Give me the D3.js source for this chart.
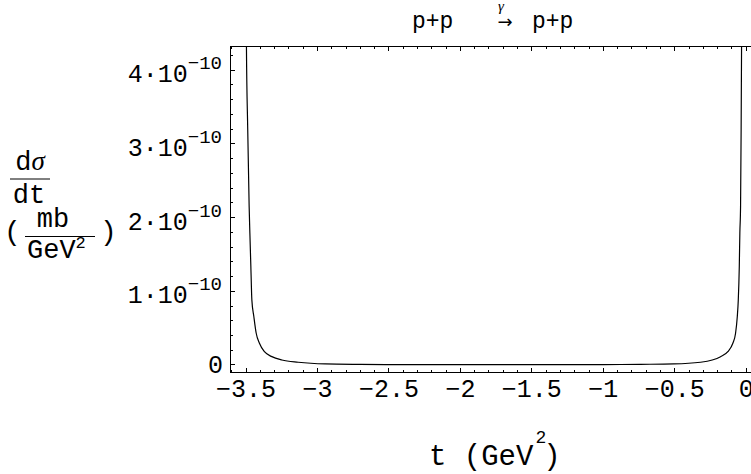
<!DOCTYPE html>
<html lang="en">
<head>
    <meta charset="UTF-8">
    <title>p+p cross section</title>
    <script src="https://cdnjs.cloudflare.com/ajax/libs/d3/7.8.5/d3.js"></script>
    <style>
        body{
            margin:0;
            background:white;
        }
        svg{
            display:block;
        }
        text{
            font-family:"Liberation Mono", "Courier New", monospace;
            fill:black;
        }
    </style>
</head>
<body>
    <svg width="751" height="474"></svg>
    <script>

// t values (GeV^2)
const tValues = [-3.500, -3.497, -3.488, -3.478, -3.473, -3.466, -3.459, -3.445, -3.429, -3.406,
                 -3.371, -3.319, -3.249, -3.135, -2.946, -2.700, -2.400, -2.000, -1.750, -1.500,
                 -1.000, -0.740, -0.507, -0.320, -0.238, -0.180, -0.129, -0.094, -0.075, -0.063,
                 -0.056, -0.049, -0.045, -0.040, -0.036, -0.033, -0.030]
// dsigma/dt in units of 1e-10 mb/GeV^2
const sigmaValues = [6.0, 4.33, 3.2, 2.15, 1.79, 1.33, 0.88, 0.655, 0.434, 0.294,
                     0.180, 0.113, 0.068, 0.037, 0.014, 0.008, 0.005, 0.004, 0.004, 0.004,
                     0.005, 0.009, 0.014, 0.037, 0.068, 0.113, 0.180, 0.294, 0.43, 0.655,
                     0.88, 1.33, 1.79, 2.15, 3.2, 4.33, 6.0]

const xTickValues = [-3.5, -3, -2.5, -2, -1.5, -1, -0.5, 0]
const xTickLabels = ["\u22123.5", "\u22123", "\u22122.5", "\u22122", "\u22121.5", "\u22121", "\u22120.5", "0"]
const yTickValues = [0, 1, 2, 3, 4]
const yTickLabels = ["0", "1\u00b710", "2\u00b710", "3\u00b710", "4\u00b710"]

const svg = d3.select("svg")

const plotLeft = 230, plotRight = 752, plotTop = 46, plotBottom = 372.5

const x = d3.scaleLinear().domain([-3.612, 0.04]).range([plotLeft, plotRight])
const y = d3.scaleLinear().domain([-0.102, 4.328]).range([plotBottom, plotTop])

// minor ticks
const xMinor = d3.range(-36, 1).map(d => d / 10).filter(d => Math.abs(d * 2 - Math.round(d * 2)) > 1e-6)
const yMinor = d3.range(0, 22).map(d => d / 5).filter(d => Math.abs(d - Math.round(d)) > 1e-6)

const frame = svg.append("g")
    .attr("stroke", "black")
    .attr("stroke-width", 1)
    .attr("shape-rendering", "crispEdges")

frame.append("line").attr("x1", plotLeft).attr("x2", plotRight).attr("y1", plotTop).attr("y2", plotTop)
frame.append("line").attr("x1", plotLeft).attr("x2", plotRight).attr("y1", plotBottom).attr("y2", plotBottom)
frame.append("line").attr("x1", plotLeft).attr("x2", plotLeft).attr("y1", plotTop).attr("y2", plotBottom)
frame.append("line").attr("x1", plotRight).attr("x2", plotRight).attr("y1", plotTop).attr("y2", plotBottom)

// x ticks, bottom and top, pointing inward
function xTicks(values, len){
    frame.selectAll(null)
        .data(values)
        .enter()
        .append("line")
        .attr("x1", d => x(d)).attr("x2", d => x(d))
        .attr("y1", plotBottom).attr("y2", plotBottom - len)
    frame.selectAll(null)
        .data(values)
        .enter()
        .append("line")
        .attr("x1", d => x(d)).attr("x2", d => x(d))
        .attr("y1", plotTop).attr("y2", plotTop + len)
}
xTicks(xTickValues, 5)
xTicks(xMinor, 3)

function yTicks(values, len){
    frame.selectAll(null)
        .data(values)
        .enter()
        .append("line")
        .attr("x1", plotLeft).attr("x2", plotLeft + len)
        .attr("y1", d => y(d)).attr("y2", d => y(d))
}
yTicks(yTickValues, 5)
yTicks(yMinor, 3)

// tick labels
svg.append("g")
    .selectAll("text")
    .data(xTickValues)
    .enter()
    .append("text")
    .attr("x", d => x(d))
    .attr("y", 397)
    .attr("text-anchor", "middle")
    .attr("font-size", 25)
    .text((d, i) => xTickLabels[i])

const yLab = svg.append("g")
    .selectAll("text")
    .data(yTickValues)
    .enter()
    .append("text")
    .attr("x", d => d === 0 ? 223 : 222)
    .attr("y", d => d === 0 ? y(d) + 8 : y(d) + 12)
    .attr("text-anchor", "end")
    .attr("font-size", 25)

yLab.append("tspan").text((d, i) => yTickLabels[i])
yLab.filter(d => d !== 0)
    .append("tspan")
    .attr("dy", -13)
    .attr("font-size", 19)
    .text("\u221210")

// curve
svg.append("clipPath").attr("id", "plotclip")
    .append("rect")
    .attr("x", plotLeft).attr("y", plotTop)
    .attr("width", plotRight - plotLeft).attr("height", plotBottom - plotTop)

const points = tValues.map((t, i) => [t, sigmaValues[i]])
const line = d3.line()
    .x(d => x(d[0]))
    .y(d => y(d[1]))
    .curve(d3.curveMonotoneX)

svg.append("path")
    .datum(points)
    .attr("clip-path", "url(#plotclip)")
    .attr("d", line)
    .attr("fill", "none")
    .attr("stroke", "black")
    .attr("stroke-width", 1.2)

// title
svg.append("text").attr("x", 412).attr("y", 28).attr("font-size", 23).text("p+p")
svg.append("text").attr("x", 532).attr("y", 28).attr("font-size", 23).text("p+p")
svg.append("text").attr("x", 505).attr("y", 28).attr("font-size", 18)
    .attr("text-anchor", "middle")
    .style("font-family", "'DejaVu Sans', sans-serif")
    .text("\u2192")
svg.append("text").attr("x", 501).attr("y", 11).attr("font-size", 15)
    .attr("text-anchor", "middle")
    .style("font-family", "'Liberation Serif', serif")
    .style("font-style", "italic")
    .text("\u03b3")

// y axis title
const yTitle = svg.append("g")
const ds = yTitle.append("text").attr("x", 30).attr("y", 170).attr("text-anchor", "middle").attr("font-size", 27)
ds.append("tspan").text("d")
ds.append("tspan")
    .style("font-family", "'Liberation Serif', serif")
    .style("font-style", "italic")
    .text("\u03c3")
yTitle.append("line").attr("x1", 10).attr("x2", 50).attr("y1", 179).attr("y2", 179)
    .attr("stroke", "black").attr("stroke-width", 1)
yTitle.append("text").attr("x", 29).attr("y", 203).attr("text-anchor", "middle").attr("font-size", 27).text("dt")

yTitle.append("text").attr("x", 4).attr("y", 240).attr("font-size", 28).text("(")
yTitle.append("text").attr("x", 100).attr("y", 240).attr("font-size", 28).text(")")
yTitle.append("text").attr("x", 53).attr("y", 227).attr("text-anchor", "middle").attr("font-size", 27).text("mb")
yTitle.append("line").attr("x1", 25).attr("x2", 95).attr("y1", 236.5).attr("y2", 236.5)
    .attr("stroke", "black").attr("stroke-width", 1)
const gev = yTitle.append("text").attr("x", 27).attr("y", 258).attr("font-size", 27)
gev.append("tspan").text("GeV")
gev.append("tspan").attr("dy", -10).attr("font-size", 17).text("2")

// x axis title
const xTitle = svg.append("text").attr("x", 429).attr("y", 465).attr("font-size", 29)
xTitle.append("tspan").text("t (GeV")
xTitle.append("tspan").attr("dy", -22).attr("dx", 2).attr("font-size", 18).text("2")
xTitle.append("tspan").attr("dy", 22).attr("dx", -3).text(")")

    </script>
</body>
</html>
